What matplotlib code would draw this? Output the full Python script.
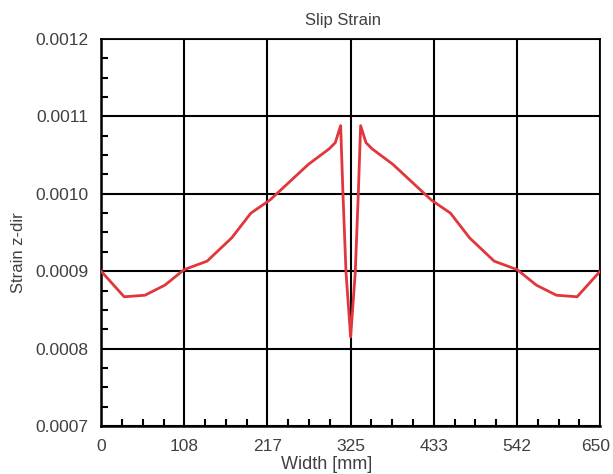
import matplotlib
matplotlib.use("Agg")
import matplotlib.pyplot as plt
import matplotlib.transforms as mtransforms
from matplotlib.ticker import MultipleLocator, FixedLocator, FixedFormatter

plt.rcParams['font.family'] = ['Liberation Sans', 'DejaVu Sans']

# Data
x_left = [0, 30, 57, 83, 108, 138, 170, 195, 220, 245, 270, 297, 305, 312, 315, 319, 325]
y_left = [0.000900, 0.000867, 0.000869, 0.000882, 0.000902, 0.000913, 0.000943, 0.000975,
          0.000992, 0.001015, 0.001038, 0.001058, 0.001066, 0.001088, 0.001000, 0.000898, 0.000815]
x_right = [331, 335, 338, 345, 353, 380, 405, 430, 455, 480, 512, 542, 567, 593, 620, 650]
y_right = [0.000898, 0.001000, 0.001088, 0.001066, 0.001058, 0.001038, 0.001015, 0.000992,
           0.000975, 0.000943, 0.000913, 0.000902, 0.000882, 0.000869, 0.000867, 0.000900]
x_vals = x_left + x_right
y_vals = y_left + y_right

x_ticks = [0, 650/6, 2*650/6, 325, 4*650/6, 5*650/6, 650]
x_tick_labels = ["0", "108", "217", "325", "433", "542", "650"]
y_ticks = [0.0007, 0.0008, 0.0009, 0.0010, 0.0011, 0.0012]
y_tick_labels = ["0.0007", "0.0008", "0.0009", "0.0010", "0.0011", "0.0012"]

text_color = "#404040"

fig = plt.figure(figsize=(6.13, 4.74), dpi=100)
ax = fig.add_axes([0.165, 0.101, 0.814, 0.817])

ax.plot(x_vals, y_vals, color="#e0363c", lw=2.0, zorder=3)

ax.set_xlim(0, 650)
ax.set_ylim(0.0007, 0.0012)
ax.xaxis.set_major_locator(FixedLocator(x_ticks))
ax.xaxis.set_major_formatter(FixedFormatter(x_tick_labels))
ax.xaxis.set_minor_locator(MultipleLocator(650/24))
ax.yaxis.set_major_locator(FixedLocator(y_ticks))
ax.yaxis.set_major_formatter(FixedFormatter(y_tick_labels))
ax.yaxis.set_minor_locator(MultipleLocator(0.000025))

ax.grid(True, which="major", color="black", lw=1.5, zorder=1)
for s in ["left", "bottom"]:
    ax.spines[s].set_linewidth(1.8)
for s in ["top", "right"]:
    ax.spines[s].set_linewidth(1.3)
ax.tick_params(which="both", direction="in", color="black", top=False, right=False,
               labelcolor=text_color, labelsize=12.5)
ax.tick_params(which="major", length=0)
ax.tick_params(axis="y", which="major", pad=9)
ax.tick_params(axis="x", which="major", pad=9)
ax.tick_params(which="minor", length=5, width=1.5)

ax.set_title("Slip Strain", fontsize=12, color=text_color, pad=10, x=0.484)
ax.set_xlabel("Width [mm]", fontsize=13, color=text_color)
ax.xaxis.set_label_coords(0.451, -0.078)
ax.set_ylabel("Strain z-dir", fontsize=12, color=text_color)
ax.yaxis.set_label_coords(-0.150, 0.447)

fig.canvas.draw()
last = ax.xaxis.get_major_ticks()[-1].label1
last.set_transform(last.get_transform() +
                   mtransforms.ScaledTranslation(-3 / 72, 0, fig.dpi_scale_trans))

fig.savefig("out.png", dpi=100)
